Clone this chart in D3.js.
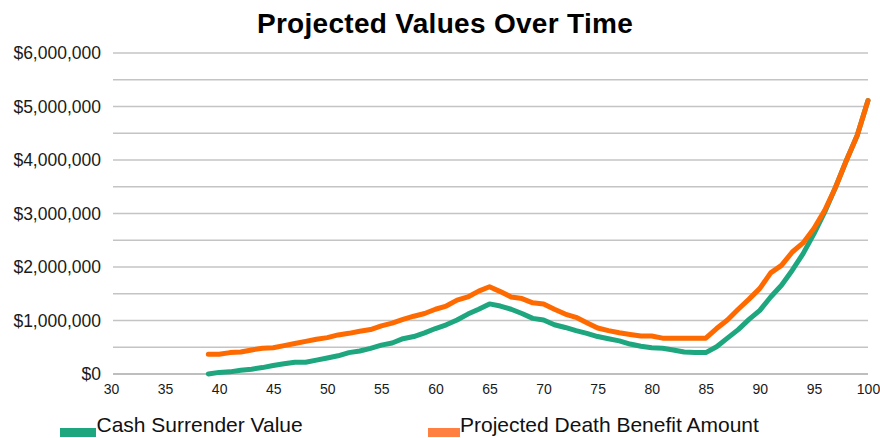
<!DOCTYPE html>
<html>
<head>
<meta charset="utf-8">
<script src="https://cdn.jsdelivr.net/npm/d3@7"></script>
<style>
  body { margin: 0; background: #fff; }
  svg { font-family: "Liberation Sans", Arial, sans-serif; }
</style>
</head>
<body>
<div class="viz"></div>
<script>
const width = 880;
const height = 438;
const margin = {top: 53, left: 111, bottom: 64, right: 12};

// ages 39..100
const ages = d3.range(39, 101);
const cashValue = [
  0.00, 0.03, 0.04, 0.07, 0.09, 0.12, 0.16, 0.19, 0.22, 0.22,
  0.26, 0.30, 0.34, 0.40, 0.43, 0.48, 0.54, 0.58, 0.66, 0.70,
  0.77, 0.85, 0.92, 1.01, 1.12, 1.21, 1.31, 1.27, 1.21, 1.13,
  1.04, 1.01, 0.92, 0.87, 0.81, 0.76, 0.70, 0.66, 0.62, 0.56,
  0.52, 0.49, 0.48, 0.45, 0.41, 0.40, 0.40, 0.51, 0.67, 0.83,
  1.02, 1.19, 1.44, 1.66, 1.94, 2.25, 2.62, 3.03, 3.49, 3.99,
  4.46, 5.11
];
const deathBenefit = [
  0.37, 0.37, 0.40, 0.41, 0.45, 0.48, 0.49, 0.53, 0.57, 0.61,
  0.65, 0.68, 0.73, 0.76, 0.80, 0.83, 0.90, 0.95, 1.02, 1.08,
  1.13, 1.21, 1.27, 1.38, 1.44, 1.55, 1.63, 1.54, 1.44, 1.41,
  1.33, 1.31, 1.21, 1.12, 1.06, 0.96, 0.86, 0.81, 0.77, 0.74,
  0.71, 0.71, 0.67, 0.67, 0.67, 0.67, 0.67, 0.85, 1.01, 1.21,
  1.40, 1.60, 1.89, 2.03, 2.28, 2.45, 2.72, 3.06, 3.49, 3.99,
  4.46, 5.11
];
const seriesNames = ['Cash Surrender Value', 'Projected Death Benefit Amount'];
const lineColours = ['#1ea67f', '#ff6a00'];
const swatchColours = ['#1ea67f', '#ff8040'];
const yTicks = d3.range(0, 6000001, 1000000);
const yGrid = d3.range(0, 6000001, 500000);
const xTicks = d3.range(30, 101, 5);

const svg = d3.select('.viz').append('svg')
  .attr('width', width)
  .attr('height', height);

const xScale = d3.scaleLinear()
  .domain([30, 100])
  .range([margin.left, width - margin.right]);

const yScale = d3.scaleLinear()
  .domain([0, 6000000])
  .range([height - margin.bottom, margin.top]);

// title
svg.append('text')
  .attr('x', 445)
  .attr('y', 33)
  .attr('text-anchor', 'middle')
  .attr('font-size', 28)
  .attr('font-weight', 'bold')
  .attr('letter-spacing', 0.3)
  .attr('fill', '#000')
  .text('Projected Values Over Time');

// gridlines
svg.append('g')
  .selectAll('line.grid')
  .data(yGrid)
  .enter()
  .append('line')
    .attr('class', 'grid')
    .attr('x1', xScale(30) + 2)
    .attr('x2', xScale(100))
    .attr('y1', d => yScale(d))
    .attr('y2', d => yScale(d))
    .attr('stroke', d => d === 0 ? '#a8a8a8' : '#c4c4c4')
    .attr('stroke-width', 1.6);

// y axis labels
const yAxis = d3.axisLeft(yScale)
  .tickValues(yTicks)
  .tickSize(0)
  .tickPadding(10)
  .tickFormat(d => '$' + d3.format(',')(d));

svg.append('g')
  .attr('transform', `translate(${margin.left},0)`)
  .call(yAxis)
  .call(g => g.select('.domain').remove())
  .call(g => g.selectAll('text')
    .attr('font-size', 17.5)
    .attr('fill', '#1a1a1a')
    .attr('font-family', '"Liberation Sans", Arial, sans-serif'));

// x axis labels
const xAxis = d3.axisBottom(xScale)
  .tickValues(xTicks)
  .tickSize(0)
  .tickPadding(10);

svg.append('g')
  .attr('transform', `translate(0,${yScale(0)})`)
  .call(xAxis)
  .call(g => g.select('.domain').remove())
  .call(g => g.selectAll('text')
    .attr('font-size', 14)
    .attr('fill', '#1a1a1a')
    .attr('font-family', '"Liberation Sans", Arial, sans-serif'));

// lines
const line = d3.line()
  .x((d, i) => xScale(ages[i]))
  .y(d => yScale(d * 1000000));

svg.append('g')
  .selectAll('path.series')
  .data([cashValue, deathBenefit])
  .enter()
  .append('path')
    .attr('class', 'series')
    .attr('d', line)
    .attr('fill', 'none')
    .attr('stroke', (d, i) => lineColours[i])
    .attr('stroke-width', 5)
    .attr('stroke-linejoin', 'round')
    .attr('stroke-linecap', 'round');

// legend
const legendX = [60, 428];
const legend = svg.append('g')
  .selectAll('g.legend-item')
  .data(seriesNames)
  .enter()
  .append('g')
    .attr('class', 'legend-item')
    .attr('transform', (d, i) => `translate(${legendX[i]},0)`);

legend.append('rect')
  .attr('x', 0)
  .attr('y', 428)
  .attr('width', (d, i) => i === 0 ? 36 : 32)
  .attr('height', 9)
  .attr('fill', (d, i) => swatchColours[i]);

legend.append('text')
  .attr('x', (d, i) => i === 0 ? 36.5 : 32)
  .attr('y', 432)
  .attr('font-size', 21)
  .attr('fill', '#111')
  .text(d => d);
</script>
</body>
</html>
